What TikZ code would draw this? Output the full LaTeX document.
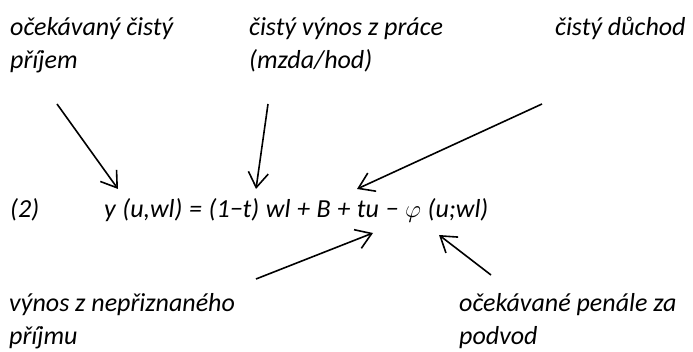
\documentclass[tikz,border=0pt]{standalone}
\usepackage{fontspec}
\setmainfont{Carlito}
\usetikzlibrary{arrows.meta}

\begin{document}
\begin{tikzpicture}[x=1pt, y=1pt, >={Straight Barb[length=15pt, width=20pt]},
  lbl/.style={anchor=base west, inner sep=0pt, align=left, font=\fontsize{26}{33}\selectfont\itshape},
  pointer/.style={->, line width=1.6pt}]
  \useasboundingbox (0,0) rectangle (693,352);

  % labels above (base = last line)
  \node[lbl] (income) at (10, 283) {očekávaný čistý\\příjem};
  \node[lbl] (wage) at (249, 283) {čistý výnos z práce\\(mzda/hod)};
  \node[lbl] (net) at (555, 316) {čistý důchod};

  % equation
  \node[lbl] (eqnum) at (10, 134) {(2)};
  \node[lbl] (eq) at (104, 134) {\spaceskip=6.6pt y (u,wl) = (1−t) wl + B + tu − $\varphi$ (u;wl)};

  % labels below
  \node[lbl] (hidden) at (9, 7) {výnos z nepřiznaného\\příjmu};
  \node[lbl] (penalty) at (459, 7) {očekávané penále za\\podvod};

  % arrow ends
  \coordinate (incomeTail) at (57, 248);
  \coordinate (incomeTip) at (118, 163);
  \coordinate (wageTail) at (268, 248);
  \coordinate (wageTip) at (256, 163);
  \coordinate (netTail) at (542, 248);
  \coordinate (netTip) at (357, 163);
  \coordinate (hiddenTail) at (256, 73);
  \coordinate (hiddenTip) at (373, 119);
  \coordinate (penaltyTail) at (491, 77);
  \coordinate (penaltyTip) at (439, 117);

  \draw[pointer] (incomeTail) -- (incomeTip);
  \draw[pointer] (wageTail) -- (wageTip);
  \draw[pointer] (netTail) -- (netTip);
  \draw[pointer] (hiddenTail) -- (hiddenTip);
  \draw[pointer] (penaltyTail) -- (penaltyTip);
\end{tikzpicture}
\end{document}
